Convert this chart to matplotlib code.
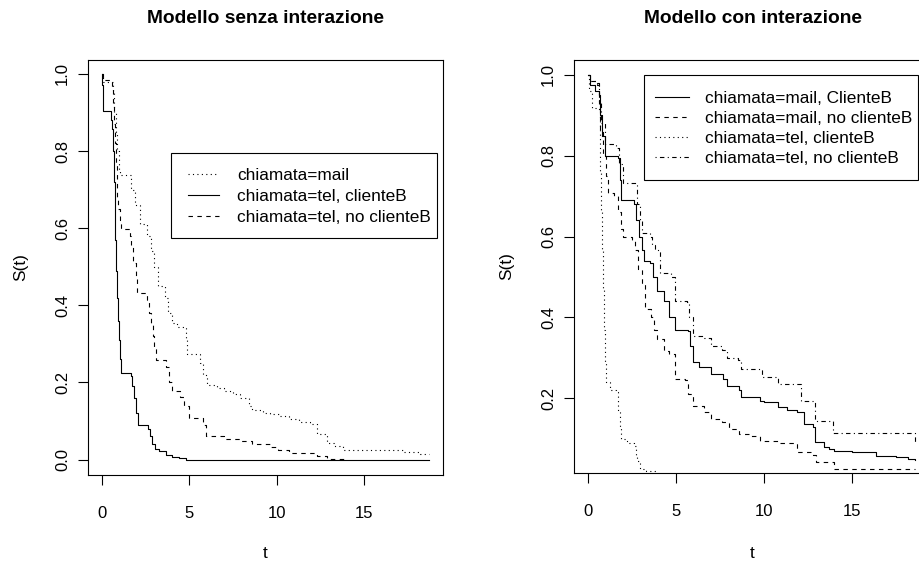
import matplotlib
matplotlib.use("Agg")
import matplotlib.pyplot as plt
from matplotlib.patches import Rectangle

plt.rcParams['font.family'] = ['Liberation Sans', 'DejaVu Sans']

# Kaplan-Meier estimates, model without interaction: (time, survival after that time)
t_mail = [0, 0.05, 0.63, 0.7, 0.8, 0.9, 1.0, 1.05, 1.7, 1.9, 2.17, 2.6, 2.8, 3.0, 3.2, 3.6,
          3.8, 4.0, 4.3, 4.8, 4.9, 5.6, 5.8, 6.0, 6.6, 7.0, 7.5, 7.9, 8.4, 8.6, 9.2, 9.6,
          10.2, 10.7, 11.3, 11.9, 12.3, 12.9, 13.3, 13.8, 17.2, 18.2, 18.7]
s_mail = [1.0, 0.98, 0.95, 0.90, 0.85, 0.80, 0.75, 0.738, 0.70, 0.66, 0.61, 0.58, 0.54, 0.50,
          0.45, 0.42, 0.38, 0.355, 0.345, 0.31, 0.275, 0.25, 0.22, 0.194, 0.185, 0.178, 0.17,
          0.16, 0.14, 0.128, 0.122, 0.117, 0.112, 0.105, 0.098, 0.092, 0.066, 0.043, 0.035,
          0.024, 0.02, 0.015, 0.015]

t_tel_b = [0, 0.02, 0.05, 0.1, 0.55, 0.6, 0.66, 0.7, 0.74, 0.78, 0.82, 0.86, 0.92, 0.98, 1.04,
           1.1, 1.7, 1.75, 1.85, 1.95, 2.08, 2.65, 2.75, 2.9, 3.03, 3.3, 3.7, 4.0, 4.4, 4.84, 18.7]
s_tel_b = [1.0, 0.97, 0.94, 0.904, 0.88, 0.857, 0.80, 0.72, 0.65, 0.57, 0.49, 0.42, 0.36, 0.31,
           0.26, 0.225, 0.217, 0.19, 0.16, 0.12, 0.09, 0.08, 0.06, 0.04, 0.028, 0.022, 0.012,
           0.007, 0.004, 0.0, 0.0]

t_tel_nob = [0, 0.05, 0.6, 0.65, 0.7, 0.75, 0.8, 0.85, 0.9, 0.95, 1.05, 1.12, 1.6, 1.7, 1.8,
             1.94, 2.0, 2.6, 2.7, 2.8, 2.93, 3.0, 3.1, 3.7, 3.85, 4.0, 4.5, 4.7, 5.0, 5.8, 5.98,
             7.0, 7.9, 8.6, 9.6, 10.1, 10.7, 12.3, 12.9, 13.9]
s_tel_nob = [1.0, 0.985, 0.96, 0.92, 0.87, 0.82, 0.77, 0.72, 0.68, 0.65, 0.62, 0.597, 0.58,
             0.55, 0.51, 0.47, 0.432, 0.415, 0.38, 0.35, 0.32, 0.29, 0.258, 0.24, 0.20, 0.177,
             0.163, 0.14, 0.109, 0.09, 0.062, 0.054, 0.047, 0.04, 0.032, 0.026, 0.017, 0.008,
             0.002, 0.0]

# model with interaction
t_mail_b = [0, 0.1, 0.4, 0.6, 0.7, 0.8, 0.97, 1.7, 1.8, 1.9, 2.6, 2.75, 2.9, 3.05, 3.2, 3.5,
            3.7, 3.9, 4.3, 4.6, 4.95, 5.7, 5.8, 5.95, 6.3, 7.0, 7.7, 7.9, 8.6, 8.7, 9.8, 10.0,
            10.8, 11.3, 11.9, 12.3, 12.8, 12.9, 13.4, 13.7, 14.0, 15.0, 16.4, 17.5, 18.2, 18.6]
s_mail_b = [1.0, 0.975, 0.96, 0.95, 0.90, 0.85, 0.80, 0.795, 0.74, 0.69, 0.68, 0.64, 0.60,
            0.568, 0.54, 0.535, 0.50, 0.465, 0.44, 0.40, 0.37, 0.367, 0.33, 0.289, 0.277,
            0.259, 0.247, 0.23, 0.22, 0.203, 0.194, 0.19, 0.178, 0.17, 0.165, 0.136, 0.128,
            0.092, 0.08, 0.074, 0.07, 0.068, 0.058, 0.054, 0.049, 0.047]

t_mail_nob = [0, 0.1, 0.5, 0.6, 0.7, 0.85, 1.0, 1.15, 1.5, 1.7, 1.85, 2.0, 2.5, 2.65, 2.85,
              3.05, 3.24, 3.6, 3.75, 3.9, 4.3, 4.6, 4.95, 5.5, 5.7, 5.95, 6.6, 7.0, 7.6, 8.0,
              8.6, 9.2, 9.8, 10.8, 11.9, 12.8, 12.95, 14.0, 18.6]
s_mail_nob = [1.0, 0.985, 0.975, 0.92, 0.86, 0.80, 0.75, 0.709, 0.70, 0.66, 0.62, 0.60, 0.59,
              0.568, 0.52, 0.486, 0.42, 0.40, 0.37, 0.346, 0.317, 0.31, 0.247, 0.244, 0.21,
              0.181, 0.165, 0.148, 0.14, 0.123, 0.111, 0.107, 0.095, 0.09, 0.067, 0.06, 0.042,
              0.025, 0.025]

t_tel_b2 = [0, 0.05, 0.2, 0.6, 0.65, 0.7, 0.75, 0.8, 0.85, 0.9, 0.95, 1.0, 1.25, 1.6, 1.7,
            1.8, 1.9, 2.2, 2.6, 2.7, 2.8, 2.95, 3.3, 3.9]
s_tel_b2 = [1.0, 0.96, 0.918, 0.914, 0.85, 0.76, 0.66, 0.57, 0.47, 0.37, 0.29, 0.24, 0.22,
            0.215, 0.17, 0.13, 0.099, 0.09, 0.082, 0.06, 0.045, 0.025, 0.02, 0.012]

t_tel_nob2 = [0, 0.1, 0.5, 0.6, 0.75, 0.97, 1.6, 1.75, 2.0, 2.7, 2.8, 2.95, 3.05, 3.5, 3.65,
              3.8, 4.1, 4.7, 4.95, 5.6, 5.75, 5.95, 6.6, 7.0, 7.6, 7.9, 8.5, 8.7, 9.9, 10.8,
              12.1, 12.9, 13.9, 18.6]
s_tel_nob2 = [1.0, 0.985, 0.98, 0.93, 0.88, 0.83, 0.82, 0.78, 0.733, 0.73, 0.68, 0.64, 0.61,
              0.60, 0.58, 0.568, 0.51, 0.50, 0.44, 0.437, 0.40, 0.354, 0.35, 0.33, 0.32, 0.30,
              0.295, 0.272, 0.252, 0.235, 0.194, 0.144, 0.113, 0.09]

DOT = (0, (1, 3))
DASH = (0, (4, 4))
DASHDOT = (0, (1, 3, 4, 3))
LW = 0.8
FS = 12.4

W, H = 919, 562
fig = plt.figure(figsize=(W / 100, H / 100), dpi=100)


def r_axes(rect, title):
    ax = fig.add_axes(rect)
    for sp in ax.spines.values():
        sp.set_linewidth(LW)
        sp.set_color('black')
    ax.tick_params(length=7.5, width=LW, labelsize=12)
    ax.tick_params(axis='x', pad=14.5)
    ax.tick_params(axis='y', pad=5.5)
    ax.set_title(title, fontsize=13.8, fontweight='bold', y=1.101, pad=0, va='center')
    ax.set_xlabel('t', fontsize=FS)
    ax.set_ylabel('S(t)', fontsize=FS)
    return ax


def r_legend(ax, box, first, hl, htp, spacing):
    # box: frame corners in pixels (x0, y0, x1, y1), first: top-left of the first entry
    x0, y0, x1, y1 = box
    ax.add_patch(Rectangle((x0 / W, 1 - y1 / H), (x1 - x0) / W, (y1 - y0) / H,
                           transform=fig.transFigure, facecolor='white', edgecolor='black',
                           lw=LW, zorder=4, clip_on=False))
    leg = ax.legend(loc='upper left', bbox_to_anchor=(first[0] / W, 1 - first[1] / H),
                    bbox_transform=fig.transFigure, fontsize=FS, frameon=False,
                    borderaxespad=0, borderpad=0, handlelength=hl, handletextpad=htp,
                    labelspacing=spacing)
    leg.set_zorder(5)
    return leg


# left panel
ax1 = r_axes([88 / W, 1 - 475 / H, 355 / W, 415 / H], 'Modello senza interazione')
ax1.step(t_mail, s_mail, where='post', color='black', lw=LW, ls=DOT, label='chiamata=mail')
ax1.step(t_tel_b, s_tel_b, where='post', color='black', lw=LW, label='chiamata=tel, clienteB')
ax1.step(t_tel_nob, s_tel_nob, where='post', color='black', lw=LW, ls=DASH,
         label='chiamata=tel, no clienteB')
ax1.set_xlim(-0.78, 19.5)
ax1.set_ylim(-0.04, 1.036)
ax1.set_xticks([0, 5, 10, 15])
ax1.set_yticks([0.0, 0.2, 0.4, 0.6, 0.8, 1.0])
ax1.set_yticklabels(['0.0', '0.2', '0.4', '0.6', '0.8', '1.0'], rotation=90, va='center')
ax1.xaxis.set_label_coords(0.5, -(553 - 475) / 415)
ax1.yaxis.set_label_coords(-(88 - 21) / 355, 0.5)
ax1.xaxis.label.set_va('center')
ax1.yaxis.label.set_va('center')
r_legend(ax1, (171, 153, 437, 238), (188, 167.5), 1.8, 1.05, 0.35)

# right panel, its box runs past the right edge of the figure
ax2 = r_axes([574 / W, 1 - 473 / H, 357 / W, 413 / H], 'Modello con interazione')
ax2.step(t_mail_b, s_mail_b, where='post', color='black', lw=LW, label='chiamata=mail, ClienteB')
ax2.step(t_mail_nob, s_mail_nob, where='post', color='black', lw=LW, ls=DASH,
         label='chiamata=mail, no clienteB')
ax2.step(t_tel_b2, s_tel_b2, where='post', color='black', lw=LW, ls=DOT,
         label='chiamata=tel, clienteB')
ax2.step(t_tel_nob2, s_tel_nob2, where='post', color='black', lw=LW, ls=DASHDOT,
         label='chiamata=tel, no clienteB')
ax2.set_xlim(-0.8, 19.5)
ax2.set_ylim(0.015, 1.037)
ax2.set_xticks([0, 5, 10, 15])
ax2.set_yticks([0.2, 0.4, 0.6, 0.8, 1.0])
ax2.set_yticklabels(['0.2', '0.4', '0.6', '0.8', '1.0'], rotation=90, va='center')
ax2.xaxis.set_label_coords(0.5, -(553 - 473) / 413)
ax2.yaxis.set_label_coords(-(574 - 507) / 357, 0.5)
ax2.xaxis.label.set_va('center')
ax2.yaxis.label.set_va('center')
r_legend(ax2, (644, 75, 918, 180), (655, 90.5), 2.0, 0.9, 0.29)

fig.savefig('out.png', dpi=100)
